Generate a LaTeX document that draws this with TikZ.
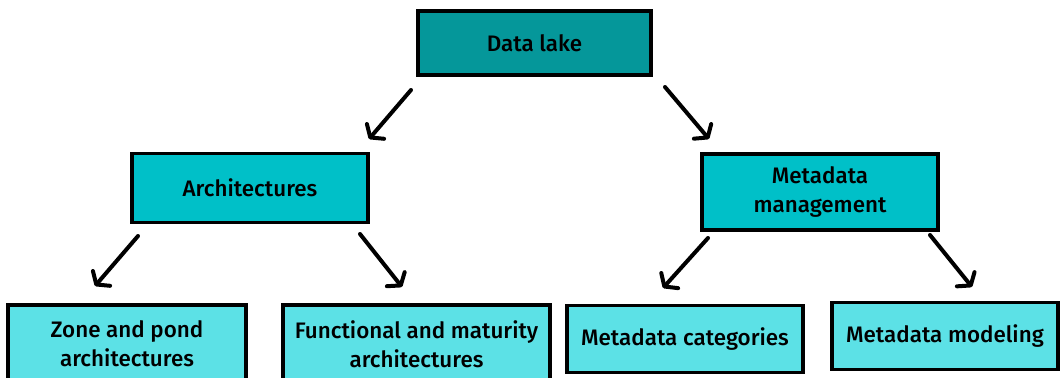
\documentclass[tikz,border=0pt]{standalone}
\usepackage{fontspec}
\setmainfont{Fira Sans}[BoldFont={Fira Sans Medium}]
\usetikzlibrary{arrows.meta}
\definecolor{rootfill}{RGB}{5,151,154}
\definecolor{midfill}{RGB}{0,192,200}
\definecolor{leaffill}{RGB}{92,225,230}
\tikzset{
  box/.style={draw=black, line width=2.4pt, align=center, inner sep=0pt,
    font=\fontsize{16.8}{21.75}\selectfont\bfseries},
  rootbox/.style={box, fill=rootfill},
  midbox/.style={box, fill=midfill},
  leafbox/.style={box, fill=leaffill},
  arr/.style={line width=3pt, line cap=round, line join=round,
    -{Straight Barb[length=6pt,width=17pt,line cap=round,line join=round]}}
}
\begin{document}
\begin{tikzpicture}[x=0.75pt,y=-0.75pt]
  \useasboundingbox (0,0) rectangle (1061,378);
  \clip (0,0) rectangle (1061,378);

  % top level
  \node[rootbox, minimum width=233*0.75pt, minimum height=64*0.75pt] (dl) at (534.5,43) {Data lake};

  % second level
  \node[midbox, minimum width=236*0.75pt, minimum height=69*0.75pt] (arch) at (250,188) {Architectures};
  \node[midbox, minimum width=236*0.75pt, minimum height=76*0.75pt] (meta) at (820,192) {Metadata\\management};

  % third level
  \node[leafbox, minimum width=238*0.75pt, minimum height=78*0.75pt] (zone) at (127,344) {Zone and pond\\architectures};
  \node[leafbox, minimum width=267*0.75pt, minimum height=78*0.75pt] (func) at (416.5,344) {Functional and maturity\\architectures};
  \node[leafbox, minimum width=236*0.75pt, minimum height=67*0.75pt] (cat) at (685,339) {Metadata categories};
  \node[leafbox, minimum width=226*0.75pt, minimum height=67*0.75pt] (mod) at (945,336) {Metadata modeling};

  % free-standing arrows between the levels
  \coordinate (dlA) at (411,90);   \coordinate (archT) at (369,139);
  \coordinate (dlB) at (665,87);   \coordinate (metaT) at (709,139);
  \coordinate (archA) at (138,236); \coordinate (zoneT) at (95,286);
  \coordinate (archB) at (360,234); \coordinate (funcT) at (402,287);
  \coordinate (metaA) at (708,238); \coordinate (catT) at (663,288);
  \coordinate (metaB) at (930,235); \coordinate (modT) at (972,287);

  \draw[arr] (dlA) -- (archT);
  \draw[arr] (dlB) -- (metaT);
  \draw[arr] (archA) -- (zoneT);
  \draw[arr] (archB) -- (funcT);
  \draw[arr] (metaA) -- (catT);
  \draw[arr] (metaB) -- (modT);
\end{tikzpicture}
\end{document}
